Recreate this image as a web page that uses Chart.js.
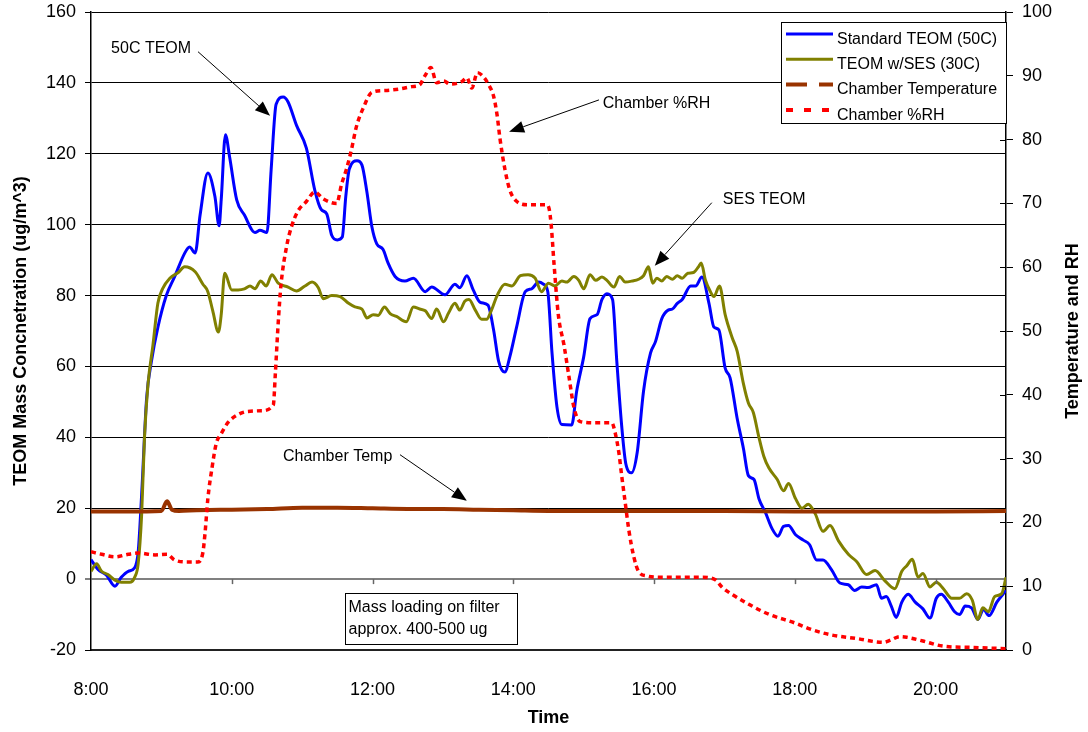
<!DOCTYPE html>
<html>
<head>
<meta charset="utf-8">
<script src="https://cdn.jsdelivr.net/npm/chart.js@4.4.1/dist/chart.umd.min.js"></script>
<style>
  html, body { margin: 0; padding: 0; background: #fff; }
  #wrap { width: 1088px; height: 732px; position: relative; }
</style>
</head>
<body>
<div id="wrap"><canvas id="chart"></canvas></div>
<script>
const FONT = "'Liberation Sans', Arial, sans-serif";

// x axis (hours of the day)
const timeTicks = [8, 10, 12, 14, 16, 18, 20];
const timeLabels = ['8:00', '10:00', '12:00', '14:00', '16:00', '18:00', '20:00'];

// Standard TEOM (50C), ug/m^3
const teomTime = [8.0, 8.1, 8.22, 8.34, 8.43, 8.53, 8.62, 8.67, 8.72, 8.79, 8.86, 8.95, 9.07, 9.19, 9.33, 9.4, 9.48, 9.55, 9.66, 9.76,
  9.82, 9.85, 9.91, 9.97, 10.07, 10.18, 10.33, 10.4, 10.5, 10.56, 10.63, 10.73, 10.8, 10.92, 11.06, 11.18, 11.27, 11.35, 11.42, 11.5,
  11.57, 11.62, 11.67, 11.78, 11.85, 11.92, 11.99, 12.06, 12.15, 12.22, 12.32, 12.46, 12.58, 12.75, 12.84, 13.03, 13.17, 13.24, 13.34, 13.43,
  13.53, 13.64, 13.72, 13.79, 13.88, 13.95, 14.05, 14.17, 14.26, 14.36, 14.43, 14.49, 14.55, 14.62, 14.69, 14.83, 14.9, 15.0, 15.09, 15.19,
  15.26, 15.33, 15.41, 15.47, 15.54, 15.6, 15.68, 15.76, 15.85, 15.95, 16.02, 16.11, 16.2, 16.26, 16.33, 16.4, 16.52, 16.59, 16.68, 16.78,
  16.85, 16.92, 17.01, 17.08, 17.18, 17.27, 17.34, 17.42, 17.49, 17.58, 17.68, 17.76, 17.84, 17.91, 18.01, 18.12, 18.21, 18.31, 18.4, 18.52,
  18.64, 18.76, 18.85, 18.95, 19.04, 19.16, 19.23, 19.3, 19.37, 19.44, 19.52, 19.61, 19.71, 19.82, 19.92, 20.01, 20.08, 20.18, 20.27, 20.34,
  20.42, 20.51, 20.6, 20.68, 20.76, 20.87, 21.0];
const teomVals = [5.5, 2.7, 1.1, -2, 0.5, 2.2, 3.2, 7.6, 24, 51, 61.6, 71, 80, 85.4, 91.9, 93.7, 92, 102.7, 114.6, 108,
  99.7, 107, 125.4, 119, 107, 102.7, 97.8, 98.4, 97.8, 115.7, 134, 136, 134.6, 128, 121.6, 109.7, 104.3, 103, 97, 95.7,
  96.5, 108, 115.7, 118, 116.8, 109.2, 99.5, 94.6, 93, 89.2, 85.4, 84.1, 84.9, 81.1, 82.4, 80.2, 83.2, 82.2, 85.6, 81.6,
  78.1, 77.3, 70.3, 61.6, 58.4, 62.7, 71.4, 81.1, 81.9, 83.8, 83.2, 81.1, 63.8, 48.6, 43.6, 43.5, 53, 62.7, 73.5, 74.6,
  78.9, 80.5, 78.9, 61.6, 43.2, 32.4, 30, 35.7, 53, 63.8, 67, 73.5, 75.9, 76.2, 77.8, 78.9, 82.7, 82.7, 85.2, 77.8,
  71.1, 70.3, 59.5, 56.8, 45.4, 36.8, 29.2, 28.1, 22.7, 18.9, 14.1, 12.1, 14.9, 15.1, 12.5, 11, 9.7, 5.4, 5.4, 2.7,
  -1.1, -1.6, -3.2, -2.2, -2.4, -1.6, -5.4, -4.9, -7.6, -10.8, -6.5, -4.3, -6.5, -8.4, -11, -5.4, -4.3, -6.5, -9.2, -10,
  -7.6, -8.1, -11.4, -8.6, -10.3, -6.5, -3.2];

// TEOM w/SES (30C), ug/m^3
const sesTime = [8.0, 8.08, 8.15, 8.24, 8.34, 8.43, 8.55, 8.62, 8.67, 8.72, 8.76, 8.81, 8.88, 8.95, 9.02, 9.12, 9.24, 9.33, 9.48, 9.59,
  9.66, 9.73, 9.81, 9.85, 9.9, 10.0, 10.09, 10.18, 10.26, 10.33, 10.41, 10.49, 10.57, 10.66, 10.8, 10.92, 11.04, 11.14, 11.23, 11.3,
  11.42, 11.54, 11.66, 11.75, 11.85, 11.92, 12.01, 12.08, 12.17, 12.25, 12.34, 12.48, 12.58, 12.67, 12.75, 12.84, 12.91, 13.01, 13.08, 13.17,
  13.24, 13.31, 13.37, 13.46, 13.55, 13.62, 13.69, 13.77, 13.88, 13.98, 14.1, 14.21, 14.31, 14.4, 14.5, 14.59, 14.69, 14.76, 14.86, 14.93,
  15.0, 15.09, 15.17, 15.26, 15.33, 15.43, 15.51, 15.59, 15.69, 15.78, 15.85, 15.92, 15.98, 16.04, 16.11, 16.18, 16.26, 16.33, 16.4, 16.48,
  16.56, 16.63, 16.67, 16.73, 16.8, 16.85, 16.93, 17.01, 17.11, 17.18, 17.27, 17.34, 17.41, 17.49, 17.56, 17.63, 17.75, 17.84, 17.91, 18.01,
  18.1, 18.19, 18.29, 18.4, 18.5, 18.62, 18.76, 18.88, 19.02, 19.14, 19.28, 19.42, 19.52, 19.59, 19.67, 19.75, 19.82, 19.92, 20.01, 20.11,
  20.23, 20.34, 20.44, 20.52, 20.6, 20.67, 20.75, 20.84, 20.94, 21.0];
const sesVals = [2.2, 4.3, 2.2, 1.3, -0.3, -0.9, -0.9, 0.5, 4.3, 18.4, 40, 55, 66, 77.8, 82, 84.9, 86.5, 88.1, 86.7, 83.2,
  81.1, 75.7, 69.7, 74.6, 86.3, 81.6, 81.6, 81.9, 82.7, 81.9, 84.1, 82.7, 85.9, 83.5, 82.4, 81.3, 82.7, 83.8, 82.2, 79.1,
  80, 79.7, 77.8, 76.8, 76.2, 73.7, 74.6, 74.4, 76.8, 74.9, 74.1, 72.6, 76.8, 76.2, 75.7, 73.5, 76.2, 72.6, 75.1, 77.8,
  75.9, 78.4, 78.9, 75.9, 73.3, 73.3, 75.9, 80, 83.2, 82.7, 85.6, 85.9, 84.9, 81.1, 83.5, 82.7, 84.1, 83.8, 85.4, 84.3,
  81.9, 85.9, 84.3, 85.2, 84.3, 82.4, 85.4, 83.8, 84.1, 84.6, 85.6, 88.1, 83.5, 84.9, 84.1, 85.4, 84.6, 85.6, 84.9, 86.3,
  86.5, 88.1, 89.2, 84.3, 81.1, 79.7, 82.7, 74.6, 68.1, 64.3, 55.1, 49.7, 47, 40, 34.6, 31.4, 28.1, 24.9, 27, 22.7,
  20, 21.1, 18.4, 13.5, 15.1, 10.8, 7, 4.9, 1.3, 2.4, -0.5, -2.7, 2.2, 3.8, 5.6, 0.5, 1.6, -2.2, -0.9, -2.7,
  -5.4, -5.4, -4.1, -5.9, -11.4, -8.1, -9.2, -4.9, -4.1, 0.5];

// Chamber temperature (right axis)
const tempTime = [8.0, 8.5, 9.0, 9.08, 9.15, 9.25, 9.5, 10.0, 10.5, 11.0, 11.5, 12.0, 12.5, 13.0, 13.5, 14.0, 14.5, 15.0, 16.0, 17.0, 18.0, 19.0, 20.0, 21.0];
const tempVals = [21.7, 21.7, 21.8, 23.3, 22.0, 21.8, 21.9, 22.0, 22.1, 22.3, 22.3, 22.2, 22.1, 22.1, 22.0, 21.9, 21.8, 21.8, 21.8, 21.8, 21.7, 21.7, 21.7, 21.8];

// Chamber %RH (right axis)
const rhTime = [8.0, 8.15, 8.34, 8.53, 8.67, 8.91, 9.08, 9.19, 9.38, 9.52, 9.59, 9.62, 9.66, 9.72, 9.78, 9.85, 9.95, 10.09, 10.23, 10.42,
  10.59, 10.62, 10.66, 10.7, 10.78, 10.85, 10.94, 11.06, 11.18, 11.3, 11.49, 11.56, 11.63, 11.7, 11.77, 11.87, 11.99, 12.18, 12.37, 12.56,
  12.67, 12.75, 12.83, 12.91, 13.01, 13.1, 13.27, 13.34, 13.41, 13.49, 13.57, 13.65, 13.72, 13.77, 13.81, 13.88, 13.95, 14.05, 14.21, 14.47,
  14.51, 14.54, 14.58, 14.64, 14.72, 14.79, 14.86, 14.95, 15.17, 15.4, 15.45, 15.5, 15.54, 15.59, 15.64, 15.71, 15.78, 15.9, 16.11, 16.35,
  16.68, 16.87, 16.97, 17.11, 17.34, 17.63, 18.01, 18.21, 18.5, 18.88, 19.26, 19.35, 19.49, 19.59, 19.82, 20.11, 20.53, 21.0];
const rhVals = [15.4, 15.0, 14.6, 15.0, 15.2, 14.9, 15.0, 14.1, 13.8, 13.8, 15.3, 18.3, 23.7, 28.6, 32.4, 33.9, 35.7, 36.9, 37.4, 37.5,
  38.4, 43.5, 51.3, 57.3, 63.3, 66.4, 68.8, 70.3, 71.8, 70.7, 70, 73, 75.4, 78.4, 82, 85, 87.4, 87.7, 87.9, 88.3,
  88.6, 90.1, 91.3, 88.9, 89.2, 88.7, 89.1, 89.7, 88.1, 90.5, 89.9, 88.6, 86.8, 83.8, 80.2, 75.4, 72.1, 70.3, 69.8, 69.8,
  69.1, 66.4, 60.3, 52.5, 47.8, 42.9, 38.1, 35.8, 35.6, 35.6, 33.9, 30.9, 27.3, 23.1, 18.9, 14.7, 12.3, 11.6, 11.4, 11.4,
  11.4, 11.0, 9.8, 8.7, 7.2, 5.6, 4.2, 3.3, 2.4, 1.8, 1.2, 1.5, 2.1, 2.0, 1.4, 0.6, 0.4, 0.2];

// callouts, placed in data units of the x and left y axes
const notes = [
  { text: '50C TEOM', at: [8.854, 149.6], align: 'center', from: [9.52, 148.8], to: [10.544, 130.7] },
  { text: 'Chamber %RH', at: [15.27, 134.1], align: 'left', from: [15.217, 135.2], to: [13.94, 126.2] },
  { text: 'SES TEOM', at: [16.977, 107], align: 'left', from: [16.82, 106.2], to: [16.01, 88.4] },
  { text: 'Chamber Temp', at: [10.727, 34.6], align: 'left', from: [12.39, 35.1], to: [13.34, 22.1] }
];
const boxNote = { lines: ['Mass loading on filter', 'approx. 400-500 ug'], x0: 11.61, x1: 14.05, y0: -3.8, y1: -18.2 };

const pts = (xs, ys) => xs.map((x, i) => ({ x: x, y: ys[i] }));

const legendItems = [
  { label: 'Standard TEOM (50C)', color: '#0000FF', width: 3, dash: [] },
  { label: 'TEOM w/SES (30C)', color: '#808000', width: 3, dash: [] },
  { label: 'Chamber Temperature', color: '#993300', width: 4, dash: [21, 12] },
  { label: 'Chamber %RH', color: '#FF0000', width: 4, dash: [7, 11] }
];

function arrow(ctx, x1, y1, x2, y2) {
  const ang = Math.atan2(y2 - y1, x2 - x1);
  const len = 15, half = 6;
  const bx = x2 - len * Math.cos(ang), by = y2 - len * Math.sin(ang);
  ctx.beginPath();
  ctx.moveTo(x1, y1);
  ctx.lineTo(bx, by);
  ctx.stroke();
  ctx.beginPath();
  ctx.moveTo(x2, y2);
  ctx.lineTo(bx + half * Math.sin(ang), by - half * Math.cos(ang));
  ctx.lineTo(bx - half * Math.sin(ang), by + half * Math.cos(ang));
  ctx.closePath();
  ctx.fill();
}

const overlay = {
  id: 'overlay',
  afterDatasetsDraw(chart) {
    const { ctx, chartArea: ca, scales: { x, y, y1 } } = chart;
    ctx.save();

    // category tick marks hang from the zero line (Excel style)
    const y0 = y.getPixelForValue(0);
    ctx.strokeStyle = '#666';
    ctx.lineWidth = 1.5;
    timeTicks.slice(1).forEach(t => {
      const px = Math.round(x.getPixelForValue(t)) + 0.5;
      ctx.beginPath(); ctx.moveTo(px, y0); ctx.lineTo(px, y0 + 5); ctx.stroke();
    });

    // right axis tick marks cross the axis line
    ctx.strokeStyle = '#000';
    ctx.lineWidth = 1;
    y1.ticks.forEach(t => {
      const py = Math.round(y1.getPixelForValue(t.value)) + 0.5;
      ctx.beginPath(); ctx.moveTo(ca.right - 6, py); ctx.lineTo(ca.right, py); ctx.stroke();
    });

    // callouts
    ctx.fillStyle = '#000';
    ctx.strokeStyle = '#000';
    ctx.font = '16px ' + FONT;
    ctx.textBaseline = 'middle';
    notes.forEach(n => {
      ctx.textAlign = n.align;
      ctx.fillText(n.text, x.getPixelForValue(n.at[0]), y.getPixelForValue(n.at[1]));
      ctx.lineWidth = 1;
      arrow(ctx, x.getPixelForValue(n.from[0]), y.getPixelForValue(n.from[1]),
        x.getPixelForValue(n.to[0]), y.getPixelForValue(n.to[1]));
    });

    // text box
    const bx0 = Math.round(x.getPixelForValue(boxNote.x0)) + 0.5;
    const bx1 = Math.round(x.getPixelForValue(boxNote.x1)) + 0.5;
    const by0 = Math.round(y.getPixelForValue(boxNote.y0)) + 0.5;
    const by1 = Math.round(y.getPixelForValue(boxNote.y1)) + 0.5;
    ctx.fillStyle = '#fff';
    ctx.fillRect(bx0, by0, bx1 - bx0, by1 - by0);
    ctx.lineWidth = 1;
    ctx.strokeRect(bx0, by0, bx1 - bx0, by1 - by0);
    ctx.fillStyle = '#000';
    ctx.textAlign = 'left';
    boxNote.lines.forEach((t, i) => ctx.fillText(t, bx0 + 3, by0 + 14 + i * 22));

    // legend
    const lw = 225, lh = 101;
    const lx = ca.right - lw, ly = ca.top + 10;
    ctx.fillStyle = '#fff';
    ctx.fillRect(lx, ly, lw, lh);
    ctx.strokeStyle = '#000';
    ctx.lineWidth = 1;
    ctx.strokeRect(Math.round(lx) + 0.5, Math.round(ly) + 0.5, lw, lh);
    ctx.textBaseline = 'alphabetic';
    legendItems.forEach((it, i) => {
      const ry = ly + 12 + i * 25.3;
      ctx.save();
      ctx.strokeStyle = it.color;
      ctx.lineWidth = it.width;
      ctx.setLineDash(it.dash);
      ctx.beginPath(); ctx.moveTo(lx + 5, ry); ctx.lineTo(lx + 52, ry); ctx.stroke();
      ctx.restore();
      ctx.fillStyle = '#000';
      ctx.fillText(it.label, lx + 56, ry + 9.8);
    });

    // right axis title, reads bottom to top
    ctx.translate(chart.width - 15, (ca.top + ca.bottom) / 2);
    ctx.rotate(-Math.PI / 2);
    ctx.font = 'bold 18px ' + FONT;
    ctx.textAlign = 'center';
    ctx.textBaseline = 'middle';
    ctx.fillText('Temperature and RH', 0, 0);
    ctx.restore();
  }
};

const lineStyle = { pointRadius: 0, fill: false, cubicInterpolationMode: 'monotone' };

// fixed axis sizes so the plot area sits where it does in the original
const fixV = w => s => { s.width = w; s.paddingTop = 0; s.paddingBottom = 0; };

new Chart(document.getElementById('chart'), {
  type: 'line',
  data: {
    datasets: [
      { ...lineStyle, label: 'Standard TEOM (50C)', data: pts(teomTime, teomVals), borderColor: '#0000FF', borderWidth: 3, yAxisID: 'y', order: 4 },
      { ...lineStyle, label: 'TEOM w/SES (30C)', data: pts(sesTime, sesVals), borderColor: '#808000', borderWidth: 3, yAxisID: 'y', order: 3 },
      { ...lineStyle, label: 'Chamber Temperature', data: pts(tempTime, tempVals), borderColor: '#993300', borderWidth: 4, yAxisID: 'y1', order: 2 },
      { ...lineStyle, label: 'Chamber %RH', data: pts(rhTime, rhVals), borderColor: '#FF0000', borderWidth: 3.5, borderDash: [5, 4], yAxisID: 'y1', order: 1 }
    ]
  },
  options: {
    responsive: true,
    maintainAspectRatio: false,
    animation: false,
    layout: { padding: { top: 12, left: 0, right: 0, bottom: 0 } },
    plugins: { legend: { display: false }, tooltip: { enabled: false } },
    scales: {
      x: {
        type: 'linear', min: 8, max: 21,
        afterBuildTicks: s => { s.ticks = timeTicks.map(v => ({ value: v })); },
        afterFit: s => { s.height = 82; s.paddingLeft = 0; s.paddingRight = 0; },
        ticks: { callback: (v, i) => timeLabels[i], font: { size: 18, family: FONT }, color: '#000', padding: 29, maxRotation: 0, autoSkip: false },
        grid: { display: false, drawTicks: false },
        border: { display: true, color: '#222', width: 2 },
        title: { display: true, text: 'Time', color: '#000', font: { size: 18, weight: 'bold', family: FONT }, padding: { top: 0, bottom: 3 } }
      },
      y: {
        position: 'left', min: -20, max: 160,
        afterFit: fixV(91),
        ticks: { stepSize: 20, font: { size: 18, family: FONT }, color: '#000', padding: 9 },
        grid: {
          color: c => (c.tick && c.tick.value === 0 ? '#808080' : '#000'),
          lineWidth: c => (c.tick && c.tick.value === 0 ? 2 : 1),
          tickLength: 6
        },
        border: { color: '#000', width: 1.5 },
        title: { display: true, text: 'TEOM Mass Concnetration (ug/m^3)', color: '#000', font: { size: 18, weight: 'bold', family: FONT }, padding: { top: 10, bottom: 0 } }
      },
      y1: {
        position: 'right', min: 0, max: 100,
        afterFit: fixV(82),
        ticks: { stepSize: 10, font: { size: 18, family: FONT }, color: '#000', padding: 9 },
        grid: { drawOnChartArea: false, tickLength: 7, color: '#000' },
        border: { color: '#000', width: 1.5 }
      }
    }
  },
  plugins: [overlay]
});
</script>
</body>
</html>
